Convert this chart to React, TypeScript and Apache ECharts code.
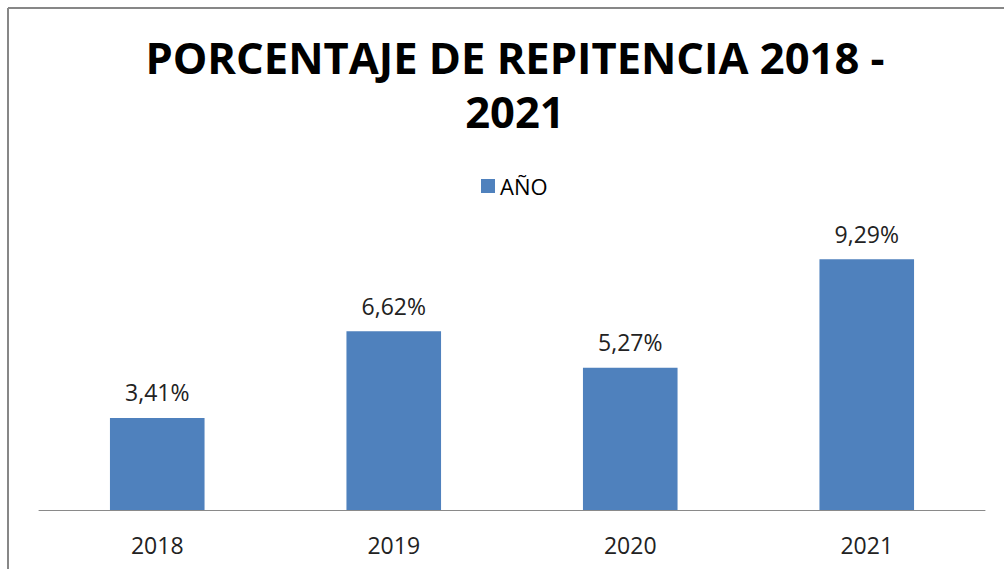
import React, { useEffect, useRef } from "react";
import * as echarts from "echarts";

const categories = ["2018", "2019", "2020", "2021"];
const values = [3.41, 6.62, 5.27, 9.29];
const seriesName = "AÑO";
const titleText = "PORCENTAJE DE REPITENCIA 2018 -\n2021";

export default function App() {
  const ref = useRef<HTMLDivElement>(null);
  useEffect(() => {
    if (!ref.current) return;
    const chart = echarts.init(ref.current, null, { renderer: "svg" });
    chart.setOption({
      animation: false,
      backgroundColor: "#ffffff",
      legend: {
        data: [seriesName],
        top: 170,
        left: 476,
        itemWidth: 14,
        itemHeight: 14,
        itemGap: 8,
        icon: "rect",
        textStyle: { fontFamily: "Open Sans", fontSize: 22, color: "#000000" },
      },
      graphic: [
        { type: "line", shape: { x1: 8, y1: 8, x2: 1004, y2: 8 }, style: { stroke: "#878787", lineWidth: 2 } },
        { type: "line", shape: { x1: 8, y1: 8, x2: 8, y2: 569 }, style: { stroke: "#878787", lineWidth: 2 } },
        {
          type: "text",
          x: 515,
          y: 30,
          style: {
            text: titleText,
            align: "center",
            verticalAlign: "top",
            fontFamily: "Open Sans",
            fontWeight: "bold",
            fontSize: 43.5,
            lineHeight: 54,
            fill: "#000000",
          },
        },
      ],
      grid: { left: 39, right: 19, top: 240, bottom: 59 },
      xAxis: {
        type: "category",
        data: categories,
        axisLine: { lineStyle: { color: "#8a8a8a", width: 1 } },
        axisTick: { show: false },
        axisLabel: { fontFamily: "Open Sans", fontSize: 23, color: "#222222", margin: 23 },
      },
      yAxis: {
        type: "value",
        min: 0,
        max: 10,
        show: false,
        splitLine: { show: false },
      },
      series: [
        {
          name: seriesName,
          type: "bar",
          data: values,
          barWidth: "40%",
          itemStyle: { color: "#4F81BD" },
          label: {
            show: true,
            position: "top",
            distance: 14,
            fontFamily: "Open Sans",
            fontSize: 23,
            color: "#222222",
            formatter: (p: any) => p.value.toFixed(2).replace(".", ",") + "%",
          },
        },
      ],
    });
    return () => chart.dispose();
  }, []);
  return (
    <div
      ref={ref}
      style={{ position: "absolute", left: 0, top: 0, width: 1004, height: 569 }}
    />
  );
}
